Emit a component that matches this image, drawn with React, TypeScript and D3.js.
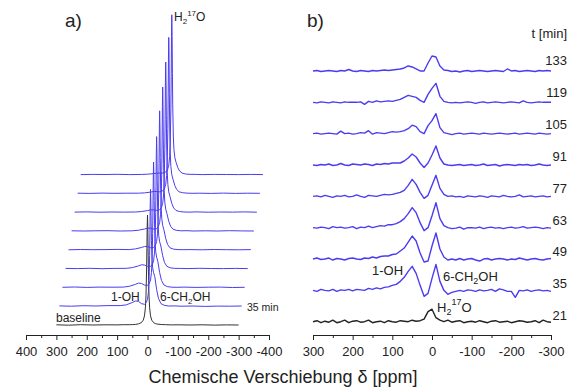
import * as d3 from 'd3';
import React, { useEffect, useRef } from 'react';

const FONT = "'Liberation Sans', Arial, Helvetica, sans-serif";
const BLUE = '#4b3cf0';
const INK = '#222';

// panel a) shift axis grid (ppm) and stacked spectra, intensity ~ px
const ppmA = [300, 260, 220, 180, 140, 100, 80, 60, 50, 40, 30, 20, 14, 10, 7, 5, 3, 2, 1, 0,
  -1, -2, -3, -5, -7, -10, -14, -20, -26, -34, -45, -60, -80, -100, -140, -180, -220, -260, -300];

const aBaseline = [0.2, -0.2, 0.3, 0, 0.2, 0.1, 0.3, 0.3, 0.4, 0.6, 1.1, 2.4, 4.8, 9.1, 17.1, 29.1, 55, 76.2, 99, 110,
  99, 76.2, 55, 29.1, 17.1, 9.1, 4.8, 2.4, 1.4, 0.85, 0.5, 0.3, 0.1, 0.2, 0, 0.2, -0.1, 0.1, 0];
const a35 = [0.3, 0, 0.5, 0.2, 0.6, 0.6, 1.3, 3.7, 5.2, 4.9, 2.6, 1.9, 3.7, 6.9, 13.9, 25.6, 50.7, 73.5, 101.2, 116.8,
  106, 83.6, 65.5, 46.6, 38.5, 33.5, 29.5, 16.8, 7.9, 2.7, 0.9, 0.2, 0.3, 0, 0.2, -0.2, 0.1, 0, 0.2];
const a49 = [0.1, 0.4, 0, 0.3, 0.2, 0.3, 1.1, 3.0, 4.3, 4.0, 2.3, 2.0, 4.0, 7.4, 14.8, 27, 53.8, 78.4, 108.5, 125.4,
  112.6, 87, 66.5, 45, 35.9, 30.2, 26.1, 14.8, 7, 2.5, 0.8, 0.2, 0.1, 0.3, 0, 0.2, 0.3, -0.1, 0.1];
const a63 = [0.2, 0, 0.3, -0.1, 0.2, 0.25, 1.0, 2.65, 3.8, 3.6, 2.2, 2.15, 4.2, 7.8, 15.4, 28, 56.2, 82.2, 114.1, 132,
  117.5, 89.4, 66.8, 43, 33, 26.8, 22.6, 12.8, 6.1, 2.2, 0.8, 0.2, 0.2, 0, 0.3, 0.1, 0, 0.2, 0];
const a77 = [0, 0.3, 0.1, 0.2, 0.4, 0.2, 0.9, 2.3, 3.3, 3.2, 2.1, 2.2, 4.4, 8.2, 16.1, 29.2, 58.7, 86.2, 120, 139,
  123, 92.3, 67.7, 41.9, 31.1, 24.3, 20.1, 11.3, 5.4, 2.0, 0.7, 0.2, 0.1, 0.2, 0, 0.3, 0.1, 0, 0.2];
const a91 = [0.2, 0, 0.2, 0.3, 0, 0.2, 0.76, 2.0, 2.8, 2.8, 1.9, 2.25, 4.5, 8.5, 16.6, 29.9, 60.4, 88.9, 124.3, 143.9,
  126.7, 93.9, 67.8, 40.4, 28.9, 21.8, 17.4, 9.7, 4.7, 1.8, 0.7, 0.2, 0.3, 0, 0.2, 0, 0.3, 0.1, 0];
const a105 = [0.1, 0.3, 0, 0.2, 0.1, 0.2, 0.64, 1.6, 2.35, 2.35, 1.8, 2.4, 4.6, 8.9, 17.2, 31, 62.8, 92.6, 129.7, 150.2,
  131.7, 96.9, 69.2, 40, 27.8, 20.3, 15.7, 8.8, 4.3, 1.7, 0.7, 0.2, 0.1, 0.3, 0, 0.2, 0.1, 0.3, 0];
const a119 = [0.2, 0, 0.3, 0.1, 0.2, 0.2, 0.5, 1.3, 1.9, 1.9, 1.6, 2.45, 4.9, 9.2, 17.9, 32, 65, 96, 134.6, 156,
  136.3, 99.6, 70.3, 39.5, 26.7, 18.7, 14.1, 7.8, 3.9, 1.6, 0.7, 0.25, 0.1, 0.2, 0, 0.3, 0, 0.2, 0.1];
const a133 = [0, 0.2, 0.1, 0.3, 0, 0.15, 0.4, 0.96, 1.4, 1.5, 1.5, 2.5, 4.9, 9.4, 18.3, 32.6, 66.3, 98.1, 137.9, 159.8,
  139.3, 101, 70.5, 38.6, 25.3, 17, 12.3, 6.8, 3.4, 1.5, 0.6, 0.26, 0.2, 0, 0.2, 0.1, 0, 0.2, 0];

// panel b) difference spectra, 10 ppm grid
const ppmB = [300, 290, 280, 270, 260, 250, 240, 230, 220, 210,
  200, 190, 180, 170, 160, 150, 140, 130, 120, 110,
  100, 90, 80, 70, 60, 50, 40, 30, 20, 10,
  0, -10, -20, -30, -40, -50, -60, -70, -80, -90,
  -100, -110, -120, -130, -140, -150, -160, -170, -180, -190,
  -200, -210, -220, -230, -240, -250, -260, -270, -280, -290,
  -300];

const b21 = [0, 1, -1, 0.5, -0.5, 1.5, -1, 0, 1.5, -1,
  0.5, 1, -0.5, 0, 1.5, -1, 0, 0.5, -1, 1,
  0, -0.5, 1, 0.5, 0, 1.5, 0.5, 1, 2.5, 10,
  12.5, 4, 1.5, 0, 1.5, -0.5, 0.5, 1, -1, 0,
  0.5, -0.5, 1, 0, -1, 0.5, 1, -0.5, 0, 0.5,
  -1, 0, 1, 0.5, -0.5, 0, 1, -1, 1.5, 0,
  -0.5];
const b35 = [0, -1, 1, 0, -0.5, 1, -1, 0.5, 0, 1,
  -0.5, 1, 0.5, 0, 2, 1, 2.5, 1.5, 3, 3.5,
  5, 6, 9, 13, 19, 24, 17, 5, -6, -3,
  12, 26, 9, 0, -4, -2, -1, 0, -1, 0.5,
  0, -1, 0.5, -0.5, 0, 1, -1, 1.5, 0.5, -1,
  -1, -7, 0, -0.5, 0.5, -1, 0, 0.5, -0.5, 0,
  -1];
const b49 = [0, 1, -0.5, 0, 1, -1, 0.5, 0, -1, 0.5,
  1, 0, -0.5, 1, 0.5, 2, 1, 2.5, 3, 3,
  4.5, 5, 8, 11, 17, 23, 18, 6, -3, -2,
  13, 26, 10, 2, -1, 0, -1, 0.5, -1, 0,
  0.5, -1, -2, 0, 0.5, -1, 0, 0.5, 0, -1,
  0, -0.5, 1, 0, -1, 0, 0.5, -0.5, -1, 0,
  0.5];
const b63 = [0, -0.5, 0.5, 0, -1, 1, 0, 0.5, -0.5, 0,
  1, -1, 0.5, 0, 1.5, 0, 1, 2, 1.5, 3,
  3, 4, 6, 9, 14, 20, 15, 5, -3, 0,
  12, 25, 9, 2, 0, -1, -0.5, 0.5, -1.5, 0,
  0, -0.5, 0.5, -1, 0, 0.5, -0.5, 0, -1, 0,
  0.5, -0.5, 0, 1, -0.5, 0, 0.5, 0, -1, 0,
  -0.5];
const b77 = [0, 0.5, -0.5, 1, 0, -1, 0.5, 0, 1, -0.5,
  0, 1.5, 0, -1, 1, 0.5, 0, 1, 2, 1.5,
  2, 3, 4, 6, 11, 17, 12, 4, -2, 1,
  11, 21, 8, 2, 0, 0.5, -0.5, 0, -1, 0.5,
  0, -0.5, 0.5, 0, -1, 0.5, 0, -0.5, 1, 0,
  -0.5, 0, 1.5, -0.5, 0, 0.5, -0.5, 0, 0.5, -0.5,
  0];
const b91 = [0, -0.5, 0.5, 0, 1, -0.5, 0, 1.5, 0, -0.5,
  1, 0.5, 0, 1, 0.5, -0.5, 1, 0.5, 1.5, 1,
  2, 2, 2, 4, 7, 11, 8, 2, -2.5, 2,
  10, 19, 7, 1, 0, -0.5, 0, 0.5, -0.5, 0,
  0.5, -0.5, 0, 1, -0.5, 0, 0.5, -1, 0, 0.5,
  0, -0.5, 0.5, 0, 0.5, -0.5, 0, 1, 0, -0.5,
  0];
const b105 = [0, 0.5, -0.5, 0, 0.5, 0, -0.5, 2.5, 0, 0.5,
  -0.5, 0, 1, 0.5, 3, -0.5, 1, 0.5, 0, 1,
  2, 1.5, 2, 3, 5, 8.5, 7, 2, 0, 8,
  13, 20, 6, 1, 0, -1, 0, 0.5, -0.5, 0,
  0.5, 0, -0.5, 0.5, 0, -0.5, 0, 0.5, 0, -0.5,
  0, 0.5, -0.5, 0, 0.5, 0, -0.5, 0.5, 0, -0.5,
  0];
const b119 = [0, -0.5, 0.5, 0, -0.5, 0.5, 0, -0.5, 0.5, 0,
  0, 0, 0.5, -2, 1, 0, 1.5, 0.5, 1, 1.5,
  1, 2, 3, 5, 7, 6, 5, 2, 0, 8,
  14, 19, 6, 1, 0, -0.5, 0, -0.5, 0, 0.5,
  0, -1, 0, 0.5, -0.5, 0, 0.5, 0, -0.5, 0,
  0.5, 0, -0.5, 1.5, 0, -0.5, 0, 0.5, 0, 0,
  0];
const b133 = [0, 0.5, -0.5, 0, 0.5, 0, -0.5, 0.5, 0, 1.5,
  0, -0.5, 0.5, 0, -0.5, 0.5, 0, 0.5, 1, 0.5,
  1, 1.5, 2, 3, 5, 4, 2, 0, 0, 8,
  15, 14, 5, 1, 0.5, -0.5, 0, -1, 0, 0.5,
  -0.5, 0, 0.5, 0, -0.5, 0, 0.5, 0, -0.5, 2,
  0, 0.5, -0.5, 0, 0.5, 0, -0.5, 0.5, 0, 0.5,
  0];

const timeLabels = ['21', '35', '49', '63', '77', '91', '105', '119', '133'];
const ticksA = [400, 300, 200, 100, 0, -100, -200, -300, -400];
const minorA = [350, 250, 150, 50, -50, -150, -250, -350];
const ticksB = [300, 200, 100, 0, -100, -200, -300];
const minorB = [250, 150, 50, -50, -150, -250];

const stackA = [aBaseline, a35, a49, a63, a77, a91, a105, a119, a133];
const stackB = [b21, b35, b49, b63, b77, b91, b105, b119, b133];

// stacking offsets
const SHIFT_A = 10; // ppm to the right per trace
const LIFT_A = 18.8;
const LIFT_B = 31.34;

const xA = d3.scaleLinear().domain([400, -400]).range([26, 269]);
const yA = d3.scaleLinear().domain([0, 310]).range([325, 15]);
const xB = d3.scaleLinear().domain([300, -300]).range([313, 551]);
const yB = d3.scaleLinear().domain([0, 250.7]).range([321.7, 71]);

const App = () => {
  const axisA = useRef<SVGGElement | null>(null);
  const axisB = useRef<SVGGElement | null>(null);

  useEffect(() => {
    const drawAxis = (node, scale, major, minor) => {
      const g = d3.select(node);
      g.selectAll('*').remove();
      g.append('g')
        .call(d3.axisBottom(scale).tickValues(minor).tickSize(3).tickSizeOuter(0).tickFormat(() => ''))
        .call((s) => s.select('.domain').remove());
      g.append('g')
        .call(d3.axisBottom(scale).tickValues(major).tickSize(5).tickSizeOuter(0).tickPadding(7)
          .tickFormat((d) => String(d)));
      g.selectAll('g').attr('font-family', FONT).attr('font-size', 13);
      g.selectAll('text').attr('fill', INK);
      g.selectAll('line, path').attr('stroke', INK).attr('stroke-width', 1);
    };
    drawAxis(axisA.current, xA, ticksA, minorA);
    drawAxis(axisB.current, xB, ticksB, minorB);
  }, []);

  const lineA = (vals, k) =>
    d3.line<number>()
      .x((_, i) => xA(ppmA[i] - SHIFT_A * k))
      .y((v) => yA(v + LIFT_A * k))(vals);

  const lineB = (vals, j) =>
    d3.line<number>()
      .x((_, i) => xB(ppmB[i]))
      .y((v) => yB(v + LIFT_B * j))(vals);

  const txt = { fontFamily: FONT, fill: INK };

  return (
    <svg width={578} height={391} style={{ position: 'absolute', left: 0, top: 0, background: '#fff' }}>
      {/* a) */}
      <g>
        {stackA.map((vals, k) => (
          <path key={k} d={lineA(vals, k) || ''} fill="none"
            stroke={k === 0 ? '#333' : BLUE} strokeWidth={1} />
        ))}
        <g ref={axisA} transform="translate(0,335)" />
        <text x={65} y={27} fontSize={19} {...txt}>a)</text>
        <text x={174} y={21} fontSize={12} {...txt}>
          H<tspan fontSize={8} dy={3}>2</tspan><tspan fontSize={8} dy={-8}>17</tspan><tspan dy={5}>O</tspan>
        </text>
        <text x={111} y={301} fontSize={12} {...txt}>1-OH</text>
        <text x={160} y={301} fontSize={12} {...txt}>
          6-CH<tspan fontSize={8} dy={3}>2</tspan><tspan dy={-3}>OH</tspan>
        </text>
        <text x={247} y={310.5} fontSize={10.5} {...txt}>35 min</text>
        <text x={56} y={321.5} fontSize={12} {...txt}>baseline</text>
      </g>

      {/* b) */}
      <g>
        {stackB.map((vals, j) => (
          <path key={j} d={lineB(vals, j) || ''} fill="none"
            stroke={j === 0 ? INK : BLUE} strokeWidth={1.4} strokeLinejoin="round" />
        ))}
        {timeLabels.map((t, j) => (
          <text key={t} x={567} y={yB(LIFT_B * j) - 1.5 - 0.55 * j} fontSize={13} textAnchor="end" {...txt}>{t}</text>
        ))}
        <g ref={axisB} transform="translate(0,335)" />
        <text x={307} y={27} fontSize={19} {...txt}>b)</text>
        <text x={567} y={38} fontSize={13} textAnchor="end" {...txt}>t [min]</text>
        <text x={372} y={275} fontSize={13} {...txt}>1-OH</text>
        <text x={443} y={281} fontSize={13} {...txt}>
          6-CH<tspan fontSize={9} dy={3}>2</tspan><tspan dy={-3}>OH</tspan>
        </text>
        <text x={437} y={311.5} fontSize={13} {...txt}>
          H<tspan fontSize={9} dy={3}>2</tspan><tspan fontSize={9} dy={-10}>17</tspan><tspan dy={7}>O</tspan>
        </text>
      </g>

      <text x={283} y={383} fontSize={18} textAnchor="middle" {...txt}>Chemische Verschiebung δ [ppm]</text>
    </svg>
  );
};

export default App;
